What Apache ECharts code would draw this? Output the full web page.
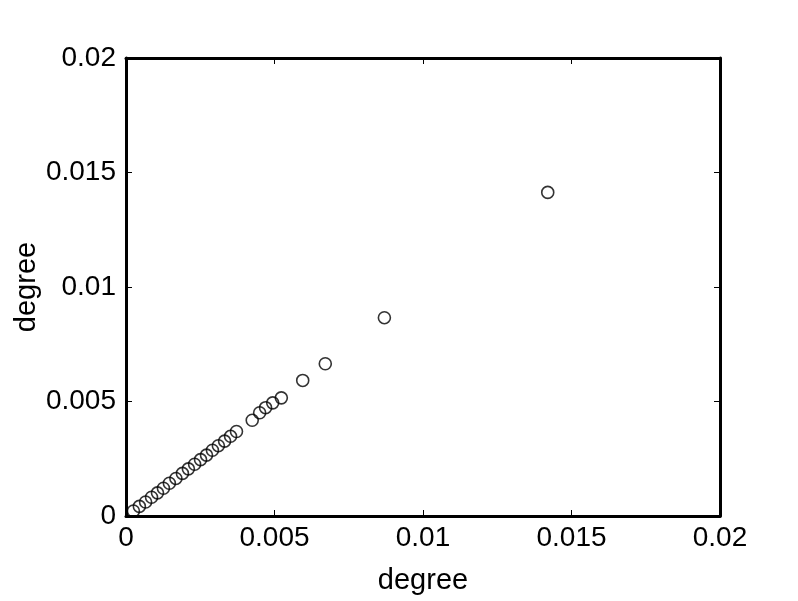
<!DOCTYPE html>
<html>
<head>
<meta charset="utf-8">
<script src="https://cdn.jsdelivr.net/npm/echarts@6/dist/echarts.min.js"></script>
<style>
html,body{margin:0;padding:0;background:#fff;}
#chart{width:798px;height:601px;}
</style>
</head>
<body>
<div id="chart"></div>
<script>
var xValues = [0.00025,0.00045,0.00066,0.00086,0.00106,0.00126,0.00146,0.00168,0.00190,0.00210,0.00231,0.00251,0.00271,0.00291,0.00311,0.00332,0.00352,0.00372,0.00425,0.00450,0.00470,0.00494,0.00523,0.00595,0.00671,0.00870,0.01420];
var yValues = [0.00022,0.00042,0.00061,0.00082,0.00101,0.00121,0.00143,0.00164,0.00186,0.00206,0.00226,0.00246,0.00266,0.00287,0.00307,0.00327,0.00348,0.00369,0.00418,0.00451,0.00473,0.00494,0.00516,0.00592,0.00665,0.00866,0.01413];
var tickValues = [0, 0.005, 0.01, 0.015, 0.02];
var tickLabels = ['0', '0.005', '0.01', '0.015', '0.02'];
var xName = 'degree';
var yName = 'degree';

function fmt(v) {
  for (var i = 0; i < tickValues.length; i++) {
    if (Math.abs(v - tickValues[i]) < 1e-9) return tickLabels[i];
  }
  return '';
}

var points = xValues.map(function (x, i) { return [x, yValues[i]]; });
var font = 'Liberation Sans, Arial, sans-serif';

var axisCommon = {
  type: 'value',
  min: 0,
  max: 0.02,
  interval: 0.005,
  axisLine: { show: true, onZero: false, lineStyle: { color: '#000', width: 3 } },
  axisTick: { show: true, inside: true, length: 6, lineStyle: { color: '#000', width: 1 } },
  splitLine: { show: false }
};

var chart = echarts.init(document.getElementById('chart'), null, { renderer: 'canvas' });
chart.setOption({
  backgroundColor: '#fff',
  animation: false,
  grid: { left: 126, top: 58, width: 594, height: 458, containLabel: false, outerBoundsMode: 'none' },
  xAxis: [
    Object.assign({}, axisCommon, {
      position: 'bottom',
      name: xName,
      nameLocation: 'middle',
      nameGap: 50,
      nameMoveOverlap: false,
      nameTextStyle: { fontFamily: font, fontSize: 29, color: '#000' },
      axisLabel: { formatter: fmt, fontFamily: font, fontSize: 28, color: '#000', margin: 8 }
    }),
    Object.assign({}, axisCommon, {
      position: 'top',
      axisLabel: { show: false }
    })
  ],
  yAxis: [
    Object.assign({}, axisCommon, {
      position: 'left',
      name: yName,
      nameLocation: 'middle',
      nameGap: 85,
      nameMoveOverlap: false,
      nameTextStyle: { fontFamily: font, fontSize: 29, color: '#000' },
      axisLabel: { formatter: fmt, fontFamily: font, fontSize: 28, color: '#000', margin: 10 }
    }),
    Object.assign({}, axisCommon, {
      position: 'right',
      axisLabel: { show: false }
    })
  ],
  series: [{
    type: 'scatter',
    xAxisIndex: 0,
    yAxisIndex: 0,
    data: points,
    symbol: 'circle',
    symbolSize: 12,
    itemStyle: { color: 'rgba(0,0,0,0)', borderColor: '#000', borderWidth: 1.6 },
    emphasis: { disabled: true }
  }]
});
</script>
</body>
</html>
